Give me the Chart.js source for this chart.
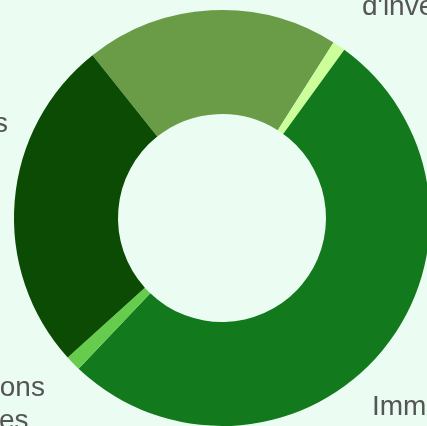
<!DOCTYPE html>
<html lang="fr">
<head>
<meta charset="utf-8">
<title>Répartition du portefeuille</title>
<script src="https://cdn.jsdelivr.net/npm/chart.js@4.4.1/dist/chart.umd.min.js"></script>
<style>
    html, body { margin: 0; padding: 0; width: 427px; height: 426px; overflow: hidden; background: #ebfcf3; }
    #cadre { position: absolute; left: -178px; top: -182px; width: 800px; height: 800px; }
</style>
</head>
<body>
<div id="cadre"><canvas id="graficoCarteira" width="800" height="800"></canvas></div>
<script>
const categorias = [
    ['Autres', 'projets'],
    ['Fonds', "d'investissement"],
    ['Immobilier'],
    ['Obligations', 'durables'],
    ['Actions']
];
const valores = [19.7, 1.0, 52.1, 1.2, 26.0];
const cores   = ['#6a9c48', '#ccff99', '#127a1c', '#66cc4d', '#0c4b03'];

// rótulos fora do anel: ângulo médio da fatia + ajuste (graus) e distância além do raio externo
const rotulosExternos = {
    id: 'rotulosExternos',
    afterDraw(chart, args, opts) {
        const ctx = chart.ctx;
        const arcos = chart.getDatasetMeta(0).data;
        ctx.save();
        ctx.font = opts.fonte;
        ctx.fillStyle = opts.cor;
        ctx.textAlign = 'center';
        ctx.textBaseline = 'middle';
        arcos.forEach((arco, i) => {
            const aj = opts.ajustes[i] || { angulo: 0, dist: 70 };
            const meio = (arco.startAngle + arco.endAngle) / 2 + aj.angulo * Math.PI / 180;
            const r = arco.outerRadius + aj.dist;
            const x = arco.x + Math.cos(meio) * r;
            const y = arco.y + Math.sin(meio) * r;
            const linhas = categorias[i];
            linhas.forEach((txt, j) => {
                ctx.fillText(txt, x, y + (j - (linhas.length - 1) / 2) * opts.alturaLinha);
            });
        });
        ctx.restore();
    }
};

new Chart(document.getElementById('graficoCarteira').getContext('2d'), {
    type: 'doughnut',
    data: {
        labels: categorias.map(c => c.join(' ')),
        datasets: [{ data: valores, backgroundColor: cores, borderWidth: 0 }]
    },
    options: {
        responsive: false,
        animation: false,
        radius: 208,
        cutout: '50%',
        rotation: -38.5,
        plugins: {
            legend: { display: false },
            tooltip: { enabled: false },
            rotulosExternos: {
                fonte: '28px "Liberation Sans", Arial, sans-serif',
                cor: '#555555',
                alturaLinha: 33,
                ajustes: [
                    { angulo: -16.3, dist: 55 },
                    { angulo: 12.65, dist: 125 },
                    { angulo: 1.6,   dist: 78 },
                    { angulo: 7.25,  dist: 101.5 },
                    { angulo: 15.2,  dist: 68.5 }
                ]
            }
        }
    },
    plugins: [rotulosExternos]
});
</script>
</body>
</html>
